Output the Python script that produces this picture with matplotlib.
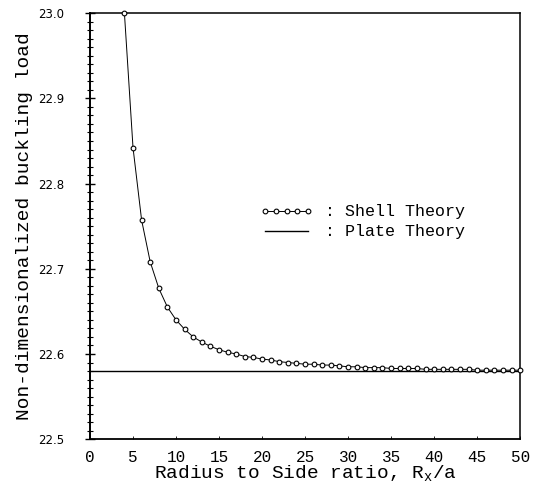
import matplotlib
matplotlib.use("Agg")
import matplotlib.pyplot as plt
from matplotlib.ticker import MultipleLocator

# Data
ratio = [4, 5, 6, 7, 8, 9, 10, 11, 12, 13, 14, 15, 16, 17, 18, 19, 20, 21, 22, 23,
         24, 25, 26, 27, 28, 29, 30, 31, 32, 33, 34, 35, 36, 37, 38, 39, 40, 41, 42,
         43, 44, 45, 46, 47, 48, 49, 50]
shell = [23.000, 22.842, 22.757, 22.708, 22.677, 22.655, 22.640, 22.629, 22.620, 22.614,
         22.609, 22.605, 22.602, 22.600, 22.597, 22.596, 22.594, 22.593, 22.591, 22.590,
         22.589, 22.588, 22.588, 22.587, 22.587, 22.586, 22.585, 22.585, 22.584, 22.584,
         22.584, 22.583, 22.583, 22.583, 22.583, 22.582, 22.582, 22.582, 22.582, 22.582,
         22.582, 22.581, 22.581, 22.581, 22.581, 22.581, 22.581]
plate_value = 22.58
x_ticks = [0, 5, 10, 15, 20, 25, 30, 35, 40, 45, 50]
y_ticks = [22.5, 22.6, 22.7, 22.8, 22.9, 23.0]

MONO = "Liberation Mono"

fig = plt.figure(figsize=(5.39, 4.88), dpi=100)
ax = fig.add_axes([0.167, 0.100, 0.798, 0.873])

ax.plot(ratio, shell, color="black", lw=0.7, marker="o", ms=3.4,
        mfc="white", mec="black", mew=0.8, clip_on=False, zorder=3,
        label=": Shell Theory")
ax.axhline(plate_value, color="black", lw=1.0, label=": Plate Theory")

ax.set_xlim(0, 50)
ax.set_ylim(22.5, 23.0)
ax.set_xticks(x_ticks)
ax.set_yticks(y_ticks)
ax.set_yticklabels([f"{v:.1f}" for v in y_ticks])
ax.yaxis.set_minor_locator(MultipleLocator(0.01))

ax.spines["left"].set_linewidth(1.4)
ax.spines["bottom"].set_linewidth(1.3)
ax.spines["top"].set_linewidth(1.1)
ax.spines["right"].set_linewidth(1.1)

ax.tick_params(axis="y", which="major", direction="inout", length=7, width=1.0,
               labelsize=8.5, pad=15)
ax.tick_params(axis="y", which="minor", direction="inout", length=4, width=0.8)
ax.tick_params(axis="x", which="major", direction="in", length=2, width=0.6,
               labelsize=11.5, pad=8)
for lab in ax.get_xticklabels():
    lab.set_family(MONO)

ax.set_xlabel(r"Radius to Side ratio, R$_\mathregular{x}$/a", family=MONO,
              fontsize=14, labelpad=-1)
ax.set_ylabel("Non-dimensionalized buckling load", family=MONO,
              fontsize=14, labelpad=4)

leg = ax.legend(loc="center left", bbox_to_anchor=(0.36, 0.51), frameon=False,
                handlelength=3.2, numpoints=5, handletextpad=0.7, labelspacing=0.3,
                prop={"family": MONO, "size": 12})

fig.savefig("out.png", dpi=100)
